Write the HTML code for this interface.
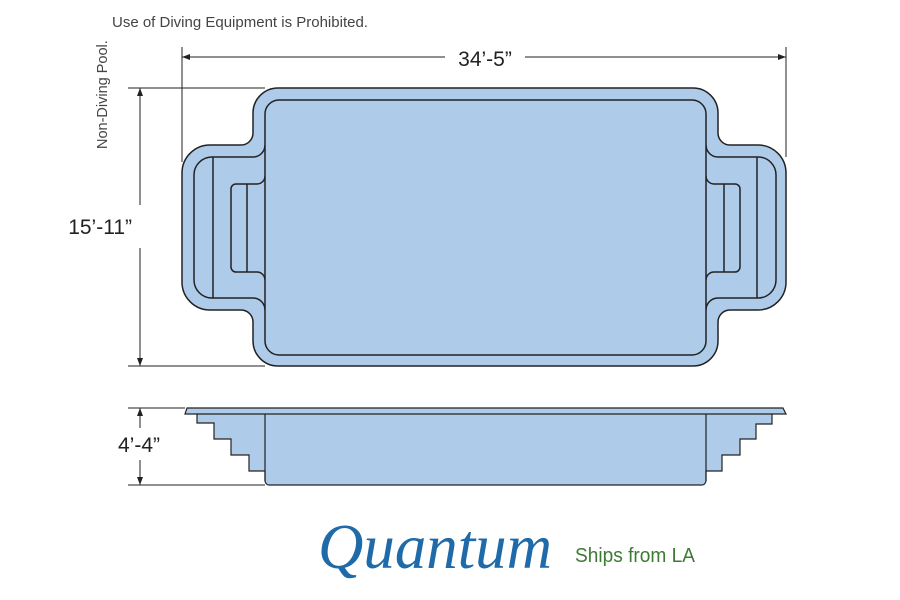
<!DOCTYPE html>
<html><head><meta charset="utf-8"><style>
html,body{margin:0;padding:0;background:#fff;width:900px;height:600px;overflow:hidden}
svg{display:block}
</style></head><body>
<svg width="900" height="600" viewBox="0 0 900 600" xmlns="http://www.w3.org/2000/svg" font-family="Liberation Sans, sans-serif">
<text x="112" y="27" font-size="15" fill="#444">Use of Diving Equipment is Prohibited.</text>
<text transform="translate(107,149) rotate(-90)" font-size="14.5" fill="#444">Non-Diving Pool.</text>
<g stroke="#222" stroke-width="1" fill="none">
<line x1="182" y1="57" x2="445" y2="57"/><line x1="525" y1="57" x2="786" y2="57"/>
<line x1="182" y1="47" x2="182" y2="162"/><line x1="786" y1="47" x2="786" y2="157"/>
<line x1="140" y1="88" x2="140" y2="205"/><line x1="140" y1="248" x2="140" y2="366"/>
<line x1="128" y1="88" x2="265" y2="88"/><line x1="128" y1="366" x2="265" y2="366"/>
<line x1="140" y1="408" x2="140" y2="428"/><line x1="140" y1="460" x2="140" y2="485"/>
<line x1="128" y1="408" x2="185" y2="408"/><line x1="128" y1="485" x2="265" y2="485"/>
</g>
<g fill="#222">
<path d="M182 57 l8 -3 v6z"/><path d="M786 57 l-8 -3 v6z"/>
<path d="M140 88 l-3 8 h6z"/><path d="M140 366 l-3 -8 h6z"/>
<path d="M140 408 l-3 8 h6z"/><path d="M140 485 l-3 -8 h6z"/>
</g>
<text x="485" y="66" font-size="21" text-anchor="middle" fill="#222">34’-5”</text>
<text x="132" y="234" font-size="21" text-anchor="end" fill="#222">15’-11”</text>
<text x="160" y="452" font-size="21" text-anchor="end" fill="#222">4’-4”</text>
<g stroke="#222" stroke-width="1.5" fill="#aecbea">
<path d="M278 88 H693 A25 25 0 0 1 718 113 V133 A12 12 0 0 0 730 145 H758 A28 28 0 0 1 786 173 V282 A28 28 0 0 1 758 310 H730 A12 12 0 0 0 718 322 V341 A25 25 0 0 1 693 366 H278 A25 25 0 0 1 253 341 V322 A12 12 0 0 0 241 310 H210 A28 28 0 0 1 182 282 V173 A28 28 0 0 1 210 145 H241 A12 12 0 0 0 253 133 V113 A25 25 0 0 1 278 88 Z"/>
<path fill="none" d="M212 157 H253 A12 12 0 0 0 265 145 M212 298 H253 A12 12 0 0 1 265 310 M212 157 A18 18 0 0 0 194 175 V280 A18 18 0 0 0 212 298 M213 157 V298"/>
<path fill="none" d="M265 176 A8 8 0 0 1 257 184 H236 A5 5 0 0 0 231 189 V267 A5 5 0 0 0 236 272 H257 A8 8 0 0 1 265 280 M247 184 V272"/>
<path fill="none" d="M758 157 H718 A12 12 0 0 1 706 145 M758 298 H718 A12 12 0 0 0 706 310 M758 157 A18 18 0 0 1 776 175 V280 A18 18 0 0 1 758 298 M757 157 V298"/>
<path fill="none" d="M706 176 A8 8 0 0 0 714 184 H735 A5 5 0 0 1 740 189 V267 A5 5 0 0 1 735 272 H714 A8 8 0 0 0 706 280 M724 184 V272"/>
<rect x="265" y="100" width="441" height="255" rx="14"/>
<path d="M187 408 H783 L786 414 H772 V424 H756 V439 H740 V455 H722 V471 H706 V481 Q705 485 702 485 H269 Q266 485 265 481 V471 H249 V455 H231 V439 H214 V423 H197 V414 H185 Z" stroke-width="1.2"/>
<path fill="none" stroke-width="1.2" d="M197 414 H772 M265 414 V481 M706 414 V481"/>
</g>
<text x="318" y="568" font-size="64" font-style="italic" font-family="Liberation Serif, serif" fill="#1f6aa8" textLength="234" lengthAdjust="spacingAndGlyphs">Quantum</text>
<text x="575" y="562" font-size="20" fill="#3e7a35" textLength="120" lengthAdjust="spacingAndGlyphs">Ships from LA</text>
</svg>
</body></html>
